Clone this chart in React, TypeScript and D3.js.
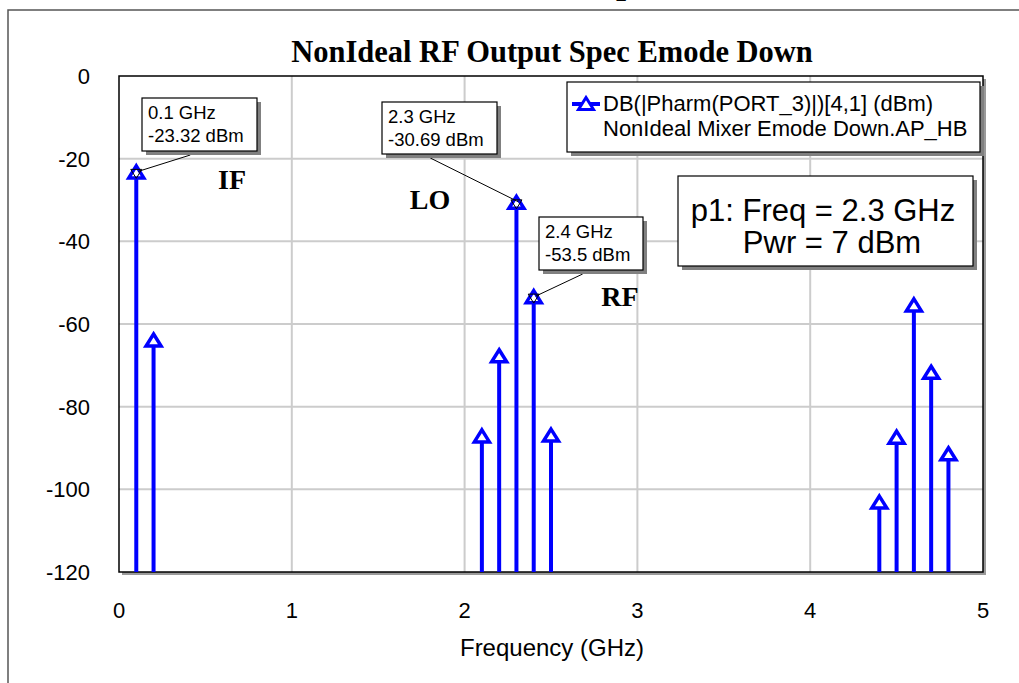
import React from "react";
import { scaleLinear } from "d3";

// spectrum lines (GHz, dBm)
const freqs = [0.1, 0.2, 2.1, 2.2, 2.3, 2.4, 2.5, 4.4, 4.5, 4.6, 4.7, 4.8];
const powers = [-23.32, -64, -87.2, -67.8, -30.69, -53.5, -87, -103.2, -87.5, -55.5, -71.8, -91.5];
const xTicks = [0, 1, 2, 3, 4, 5];
const yTicks = [0, -20, -40, -60, -80, -100, -120];

// marker readouts: index into data, box position
const markerIdx = [0, 4, 5];
const markerBox = [
  { x: 142, y: 98, w: 115, h: 53 },
  { x: 382, y: 102, w: 115, h: 52 },
  { x: 539, y: 217, w: 104, h: 53 },
];
const markerFmt = ["-23.32 dBm", "-30.69 dBm", "-53.5 dBm"];

const tags = [
  { text: "IF", x: 232, y: 189 },
  { text: "LO", x: 430, y: 209 },
  { text: "RF", x: 620, y: 306 },
];

const W = 1019;
const H = 683;
const L = 119;
const R = 983;
const T = 76;
const B = 572;

const BLUE = "#0000ff";
const sans = "'Liberation Sans', Arial, sans-serif";
const serif = "'Liberation Serif', 'Times New Roman', serif";

const tri = "M0,-6.5L7.5,5.5L-7.5,5.5Z";
const invTri = "M0,6L-5.5,-3L5.5,-3Z";

function Box({ x, y, w, h }: { x: number; y: number; w: number; h: number }) {
  return (
    <g>
      <rect x={x + 4} y={y + 4} width={w} height={h} fill="#808080" />
      <rect x={x} y={y} width={w} height={h} fill="#fff" stroke="#000" strokeWidth={1.2} />
    </g>
  );
}

export default function App() {
  const x = scaleLinear().domain([0, 5]).range([L, R]);
  const y = scaleLinear().domain([-120, 0]).range([B, T]);

  return (
    <svg width={W} height={H} style={{ position: "absolute", left: 0, top: 0, background: "#fff" }}>
      {/* outer frame, mostly cut off */}
      <path d={`M8,${H}V10H${W}`} fill="none" stroke="#555" strokeWidth={1.5} />
      <text x={626} y={-7} fontFamily={serif} fontWeight="bold" fontSize={36} textAnchor="middle">p</text>

      <text x={552} y={62} fontFamily={serif} fontWeight="bold" fontSize={30.5} textAnchor="middle">
        NonIdeal RF Output Spec Emode Down
      </text>

      {/* plot shadow + area */}
      <rect x={L + 3} y={T + 3} width={R - L} height={B - T} fill="#9a9a9a" />
      <rect x={L} y={T} width={R - L} height={B - T} fill="#fff" />

      {xTicks.slice(1, -1).map((t) => (
        <line key={"gx" + t} x1={x(t)} x2={x(t)} y1={T} y2={B} stroke="#cccccc" strokeWidth={2} />
      ))}
      {yTicks.slice(1, -1).map((t) => (
        <line key={"gy" + t} x1={L} x2={R} y1={y(t)} y2={y(t)} stroke="#cccccc" strokeWidth={2} />
      ))}
      <rect x={L} y={T} width={R - L} height={B - T} fill="none" stroke="#000" strokeWidth={1.5} />

      {yTicks.map((t) => (
        <text key={"ty" + t} x={90} y={y(t) + 8} fontFamily={sans} fontSize={22} textAnchor="end">
          {t}
        </text>
      ))}
      {xTicks.map((t) => (
        <text key={"tx" + t} x={x(t)} y={618} fontFamily={sans} fontSize={22} textAnchor="middle">
          {t}
        </text>
      ))}
      <text x={552} y={656} fontFamily={sans} fontSize={24} textAnchor="middle">
        Frequency (GHz)
      </text>

      {/* stems */}
      {freqs.map((f, i) => (
        <g key={"s" + i}>
          <line x1={x(f)} x2={x(f)} y1={B} y2={y(powers[i])} stroke={BLUE} strokeWidth={4} />
          <path d={tri} transform={`translate(${x(f)},${y(powers[i])})`} fill="#fff" stroke={BLUE} strokeWidth={3.5} />
        </g>
      ))}

      {/* marker readouts */}
      {markerIdx.map((idx, k) => {
        const b = markerBox[k];
        const px = x(freqs[idx]);
        const py = y(powers[idx]);
        return (
          <g key={"m" + k}>
            <path d={invTri} transform={`translate(${px},${py})`} fill="none" stroke="#000" strokeWidth={1} />
            <line x1={b.x + b.w * 0.42} y1={b.y + b.h + 4} x2={px + 2} y2={py - 1} stroke="#000" strokeWidth={1} />
            <Box {...b} />
            <text x={b.x + 6} y={b.y + 21} fontFamily={sans} fontSize={18.5}>{freqs[idx]} GHz</text>
            <text x={b.x + 6} y={b.y + 44} fontFamily={sans} fontSize={18.5}>{markerFmt[k]}</text>
          </g>
        );
      })}

      {tags.map((t) => (
        <text key={t.text} x={t.x} y={t.y} fontFamily={serif} fontWeight="bold" fontSize={28} textAnchor="middle">
          {t.text}
        </text>
      ))}

      {/* legend */}
      <Box x={567} y={82} w={413} h={70} />
      <line x1={572} x2={600} y1={104} y2={104} stroke={BLUE} strokeWidth={4} />
      <path d={tri} transform="translate(586,104)" fill="#fff" stroke={BLUE} strokeWidth={3} />
      <text x={603} y={111} fontFamily={sans} fontSize={22}>DB(|Pharm(PORT_3)|)[4,1] (dBm)</text>
      <text x={603} y={136} fontFamily={sans} fontSize={22}>NonIdeal Mixer Emode Down.AP_HB</text>

      {/* p1 annotation */}
      <Box x={678} y={176} w={295} h={90} />
      <text x={823} y={221} fontFamily={sans} fontSize={31} textAnchor="middle">p1: Freq = 2.3 GHz</text>
      <text x={832} y={253} fontFamily={sans} fontSize={31} textAnchor="middle">Pwr = 7 dBm</text>
    </svg>
  );
}
